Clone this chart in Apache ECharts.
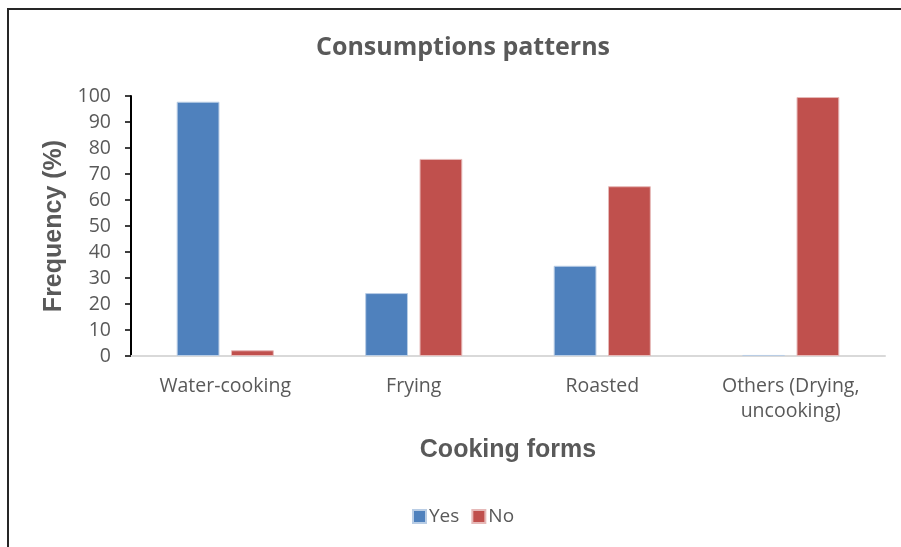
<!DOCTYPE html>
<html>
<head>
<meta charset="utf-8">
<script src="https://cdn.jsdelivr.net/npm/echarts@6/dist/echarts.min.js"></script>
<style>
  html, body { margin: 0; padding: 0; background: #fff; }
  #chart { width: 901px; height: 547px; }
</style>
</head>
<body>
<div id="chart"></div>
<script>
// Cooking forms on the category axis
const categories = ['Water-cooking', 'Frying', 'Roasted', 'Others (Drying,\nuncooking)'];
// Share of respondents (%) per cooking form
const yesValues = [97.8, 24.2, 34.7, 0.4];
const noValues = [2.2, 75.8, 65.3, 99.6];
const seriesNames = ['Yes', 'No'];
const yTicks = { min: 0, max: 100, interval: 10 };

const textGray = '#595959';
const labelFont = '"Open Sans", "Noto Sans", sans-serif';
const boldFont = '"Liberation Sans", Arial, sans-serif';

const chart = echarts.init(document.getElementById('chart'), null, { renderer: 'canvas' });

chart.setOption({
  backgroundColor: '#ffffff',
  animation: false,
  title: {
    text: 'Consumptions patterns',
    left: 458,
    textAlign: 'center',
    top: 30,
    textStyle: { fontFamily: labelFont, fontWeight: 'bold', fontSize: 25, color: textGray }
  },
  legend: {
    data: seriesNames,
    bottom: 16,
    left: 407,
    itemWidth: 13,
    itemHeight: 13,
    itemGap: 12,
    icon: 'rect',
    textStyle: { fontFamily: labelFont, fontSize: 19, color: textGray, padding: [0, 0, 0, -2] }
  },
  grid: { left: 131, right: 16, top: 96, bottom: 191, containLabel: false },
  xAxis: {
    type: 'category',
    data: categories,
    name: 'Cooking forms',
    nameLocation: 'middle',
    nameGap: 82,
    nameTextStyle: { fontFamily: boldFont, fontWeight: 'bold', fontSize: 25, color: textGray },
    axisLine: { show: true, lineStyle: { color: '#d9d9d9', width: 2 } },
    axisTick: { show: false },
    axisLabel: { margin: 18, fontFamily: labelFont, fontSize: 19.5, color: textGray, lineHeight: 25, interval: 0 }
  },
  yAxis: {
    type: 'value',
    min: yTicks.min,
    max: yTicks.max,
    interval: yTicks.interval,
    name: 'Frequency (%)',
    nameLocation: 'middle',
    nameGap: 62,
    nameTextStyle: { fontFamily: boldFont, fontWeight: 'bold', fontSize: 25, color: textGray },
    axisLine: { show: true, lineStyle: { color: '#000000', width: 2 } },
    axisTick: { show: true, length: 6, lineStyle: { color: '#000000', width: 1.5 } },
    axisLabel: { margin: 20, fontFamily: labelFont, fontSize: 19.5, color: textGray },
    splitLine: { show: false }
  },
  series: [
    {
      name: seriesNames[0],
      type: 'bar',
      data: yesValues,
      barWidth: '22.7%',
      barGap: '27%',
      itemStyle: { color: '#4f81bd', borderColor: '#b9cde5', borderWidth: 1 }
    },
    {
      name: seriesNames[1],
      type: 'bar',
      data: noValues,
      barWidth: '22.7%',
      barGap: '27%',
      itemStyle: { color: '#c0504d', borderColor: '#e6b9b8', borderWidth: 1 }
    }
  ],
  graphic: [
    {
      type: 'rect',
      shape: { x: 8, y: 9, width: 1000, height: 700 },
      style: { fill: null, stroke: '#262626', lineWidth: 2 },
      silent: true
    }
  ]
});
</script>
</body>
</html>
